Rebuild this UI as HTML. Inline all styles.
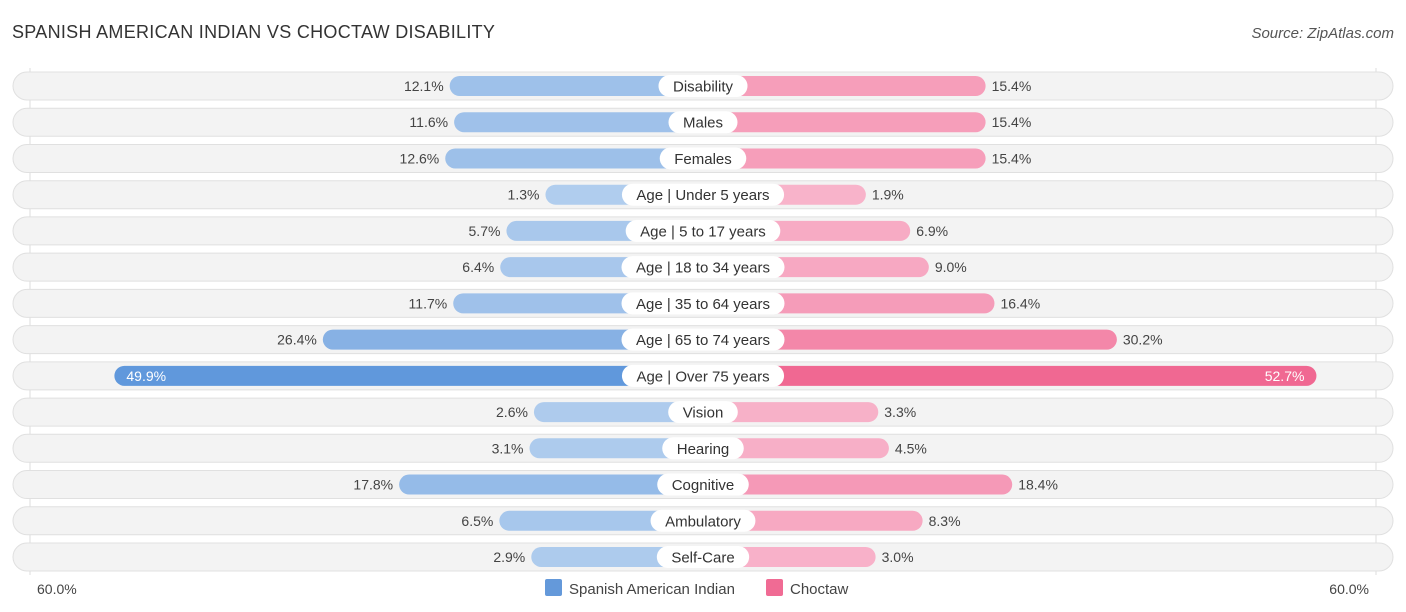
<!DOCTYPE html>
<html><head><meta charset="utf-8"><style>
body{margin:0;width:1406px;height:612px;background:#fff;font-family:"Liberation Sans",sans-serif;position:relative;overflow:hidden}
.t{position:absolute;white-space:nowrap}
</style></head><body>
<div class="t" style="left:12px;top:22px;font-size:18px;color:#333;letter-spacing:0.3px">SPANISH AMERICAN INDIAN VS CHOCTAW DISABILITY</div>
<div class="t" style="right:12px;top:25px;font-size:15px;color:#555;font-style:italic">Source: ZipAtlas.com</div>
<svg id="c" width="1406" height="612" style="position:absolute;left:0;top:0"></svg>
<script>
const categories=["Disability","Males","Females","Age | Under 5 years","Age | 5 to 17 years","Age | 18 to 34 years","Age | 35 to 64 years","Age | 65 to 74 years","Age | Over 75 years","Vision","Hearing","Cognitive","Ambulatory","Self-Care"];
const spanish=[12.1,11.6,12.6,1.3,5.7,6.4,11.7,26.4,49.9,2.6,3.1,17.8,6.5,2.9];
const choctaw=[15.4,15.4,15.4,1.9,6.9,9.0,16.4,30.2,52.7,3.3,4.5,18.4,8.3,3.0];
const axisLabels=["60.0%","60.0%"];
const svg=document.getElementById('c');const NS="http://www.w3.org/2000/svg";
const cx=703,k=8.87,off=146,y0=86,pitch=36.23;
function mk(t,a,p){const e=document.createElementNS(NS,t);for(const x in a)e.setAttribute(x,a[x]);(p||svg).appendChild(e);return e;}
function mix(a,b,f){return 'rgb('+a.map((v,i)=>Math.round(v+(b[i]-v)*f)).join(',')+')';}
const bl=[178,206,238],bs=[96,152,220],pl=[248,182,204],ps=[240,104,146];
mk('line',{x1:30,x2:30,y1:68,y2:575,stroke:'#ddd'});
mk('line',{x1:1376,x2:1376,y1:68,y2:575,stroke:'#ddd'});
categories.forEach((c,i)=>{
 const y=y0+i*pitch;
 const g=mk('g',{});
 
 
 const bg=mk('rect',{x:13,y:y-14,width:1380,height:28,rx:14,fill:'#f3f3f3',stroke:'#e0e0e0'},g);
 
 const ws=off+spanish[i]*k, wc=off+choctaw[i]*k;
 const fs=Math.min(1,spanish[i]/50), fc=Math.min(1,choctaw[i]/50);
 const b1=mk('rect',{x:cx-ws,y:y-10,width:ws,height:20,rx:10,fill:mix(bl,bs,fs)},g);
 
 const b2=mk('rect',{x:cx,y:y-10,width:wc,height:20,rx:10,fill:mix(pl,ps,fc)},g);
 
 const lb=mk('rect',{y:y-11,height:22,rx:11,fill:'#fff'},g);
 
 const lt=mk('text',{x:cx,y:y+5.5,'text-anchor':'middle','font-size':15,fill:'#333'},g);lt.textContent=c;
 
 const lw=lt.getComputedTextLength()+29;
 lb.setAttribute('x',cx-lw/2);lb.setAttribute('width',lw);
 const inS=spanish[i]>40, inC=choctaw[i]>40;
 const v1=mk('text',{x:inS?cx-ws+12:cx-ws-6,y:y+5,'text-anchor':inS?'start':'end','font-size':14,fill:inS?'#fff':'#444'},g);v1.textContent=spanish[i].toFixed(1)+'%';
 
 const v2=mk('text',{x:inC?cx+wc-12:cx+wc+6,y:y+5,'text-anchor':inC?'end':'start','font-size':14,fill:inC?'#fff':'#444'},g);v2.textContent=choctaw[i].toFixed(1)+'%';
 
});
const a1=mk('text',{x:37,y:594,'font-size':14,fill:'#444'});a1.textContent=axisLabels[0];

const a2=mk('text',{x:1369,y:594,'font-size':14,fill:'#444','text-anchor':'end'});a2.textContent=axisLabels[1];

const l1=mk('rect',{x:545,y:579,width:17,height:17,rx:2,fill:'#6499da'});

const t1=mk('text',{x:569,y:594,'font-size':15,fill:'#444'});t1.textContent='Spanish American Indian';

const l2=mk('rect',{x:766,y:579,width:17,height:17,rx:2,fill:'#f06b94'});

const t2=mk('text',{x:790,y:594,'font-size':15,fill:'#444'});t2.textContent='Choctaw';

</script>
</body></html>
